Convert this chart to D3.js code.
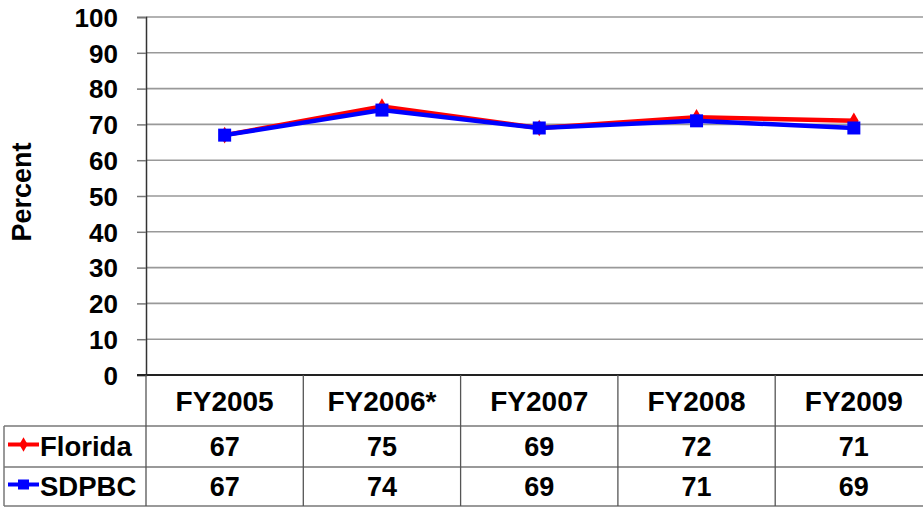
<!DOCTYPE html>
<html>
<head>
<meta charset="utf-8">
<script src="https://cdn.jsdelivr.net/npm/d3@7/dist/d3.min.js"></script>
<style>
html,body{margin:0;padding:0;background:#fff;overflow:hidden;}
svg{display:block;}
text{font-family:"Liberation Sans",Arial,sans-serif;font-weight:bold;fill:#000;}
</style>
</head>
<body>
<svg id="c" width="923" height="508"></svg>
<script>
const categories = ["FY2005", "FY2006*", "FY2007", "FY2008", "FY2009"];
const floridaValues = [67, 75, 69, 72, 71];
const sdpbcValues = [67, 74, 69, 71, 69];
const yTicks = [0, 10, 20, 30, 40, 50, 60, 70, 80, 90, 100];
const seriesNames = ["Florida", "SDPBC"];
const seriesColors = ["#ff0000", "#0000ff"];

const series = [
  {name: seriesNames[0], values: floridaValues, color: seriesColors[0], marker: "diamond"},
  {name: seriesNames[1], values: sdpbcValues, color: seriesColors[1], marker: "square"}
];

const svg = d3.select("#c");
const plotLeft = 146, plotTop = 17, plotBottom = 375, colW = 157.3;
const plotRight = plotLeft + categories.length * colW;
const rowLines = [426, 467, 506];
const tableLeft = 4;

const x = d3.scaleBand().domain(categories).range([plotLeft, plotRight]).padding(0);
const y = d3.scaleLinear().domain([0, 100]).range([plotBottom, plotTop]);

// gridlines
svg.append("g").selectAll("line").data(yTicks.filter(d => d > 0)).join("line")
  .attr("x1", plotLeft).attr("x2", 923)
  .attr("y1", d => y(d)).attr("y2", d => y(d))
  .attr("stroke", "#999").attr("stroke-width", 1.6);

// y axis
const yAxis = d3.axisLeft(y).tickValues(yTicks).tickSize(9).tickPadding(19).tickFormat(d3.format("d"));
const ya = svg.append("g").attr("transform", `translate(${plotLeft},0)`).call(yAxis);
ya.select(".domain").attr("stroke", "#333").attr("stroke-width", 1.5);
ya.selectAll(".tick line").attr("stroke", "#777").attr("stroke-width", 1.5);
ya.selectAll(".tick text").style("font-size", "26px").style("font-family", '"Liberation Sans",Arial,sans-serif').style("font-weight", "bold").attr("fill", "#000").attr("dy", "0.36em");

// x axis baseline (0 line)
svg.append("line").attr("x1", plotLeft - 9).attr("x2", 923).attr("y1", y(0)).attr("y2", y(0))
  .attr("stroke", "#222").attr("stroke-width", 1.8);

// y label
svg.append("text").attr("transform", "translate(31,192) rotate(-90)")
  .attr("text-anchor", "middle").style("font-size", "27px").text("Percent");

// data table lines
const tg = svg.append("g");
rowLines.forEach(r => {
  tg.append("line").attr("x1", tableLeft).attr("x2", 923).attr("y1", r).attr("y2", r)
    .attr("stroke", "#777").attr("stroke-width", 1.5);
});
tg.append("line").attr("x1", tableLeft).attr("x2", tableLeft).attr("y1", rowLines[0]).attr("y2", rowLines[2])
  .attr("stroke", "#777").attr("stroke-width", 1.5);
categories.forEach(c => {
  tg.append("line").attr("x1", x(c)).attr("x2", x(c)).attr("y1", plotBottom).attr("y2", rowLines[2])
    .attr("stroke", "#555").attr("stroke-width", 1.3);
});

// header labels
svg.append("g").selectAll("text").data(categories).join("text")
  .attr("x", d => x(d) + x.bandwidth() / 2).attr("y", (plotBottom + rowLines[0]) / 2)
  .attr("dy", "0.36em").attr("text-anchor", "middle").style("font-size", "28px").text(d => d);

// values rows
series.forEach((s, i) => {
  const yc = i === 0 ? (rowLines[0] + rowLines[1]) / 2 : (rowLines[1] + rowLines[2]) / 2;
  svg.append("g").selectAll("text").data(s.values).join("text")
    .attr("x", (d, j) => x(categories[j]) + x.bandwidth() / 2).attr("y", yc)
    .attr("dy", "0.36em").attr("text-anchor", "middle").style("font-size", "27px").text(d => d);
  // legend key
  svg.append("line").attr("x1", 8).attr("x2", 39).attr("y1", yc - 2).attr("y2", yc - 2)
    .attr("stroke", s.color).attr("stroke-width", 4);
  if (s.marker === "diamond") {
    svg.append("path").attr("d", d3.symbol(d3.symbolDiamond, 60)())
      .attr("transform", `translate(23.5,${yc - 2})`).attr("fill", s.color);
  } else {
    svg.append("rect").attr("x", 18).attr("y", yc - 7).attr("width", 11).attr("height", 10).attr("fill", s.color);
  }
  svg.append("text").attr("x", 40).attr("y", yc).attr("dy", "0.36em")
    .style("font-size", "27.5px").text(s.name);
});

// series lines
const line = d3.line().x((d, j) => x(categories[j]) + x.bandwidth() / 2).y(d => y(d));
series.forEach(s => {
  const g = svg.append("g");
  g.append("path").datum(s.values).attr("d", line).attr("fill", "none")
    .attr("stroke", s.color).attr("stroke-width", 4.5).attr("stroke-linejoin", "round");
  if (s.marker === "diamond") {
    g.selectAll("path.m").data(s.values).join("path").attr("class", "m")
      .attr("d", d3.symbol(d3.symbolDiamond, 80)())
      .attr("transform", (d, j) => `translate(${x(categories[j]) + x.bandwidth() / 2},${y(d)})`)
      .attr("fill", s.color);
  } else {
    g.selectAll("rect").data(s.values).join("rect")
      .attr("x", (d, j) => x(categories[j]) + x.bandwidth() / 2 - 6.5).attr("y", d => y(d) - 6.5)
      .attr("width", 13).attr("height", 13).attr("fill", s.color);
  }
});
</script>
</body>
</html>
